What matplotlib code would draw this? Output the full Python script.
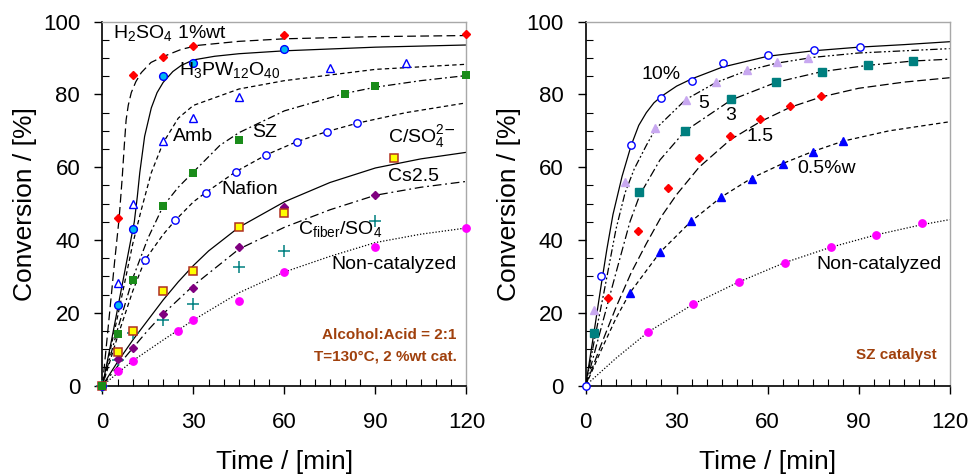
import matplotlib
matplotlib.use("Agg")
import matplotlib.pyplot as plt
from matplotlib.ticker import MultipleLocator

plt.rcParams["font.family"] = ["Liberation Sans", "DejaVu Sans"]
plt.rcParams["mathtext.fontset"] = "custom"
plt.rcParams["mathtext.rm"] = "Liberation Sans"
plt.rcParams["mathtext.it"] = "Liberation Sans"

# ---------------- left panel: catalysts (measured points) ----------------
t_h2so4 = [5, 10, 20, 30, 60, 120]
x_h2so4 = [46.1, 85.3, 90.4, 93.4, 96.3, 96.6]
t_hpw = [5, 10, 20, 30, 60]
x_hpw = [22.1, 43.1, 85.1, 88.6, 92.4]
t_amb = [5, 10, 20, 30, 45, 75, 100]
x_amb = [28.1, 50.0, 67.2, 73.4, 79.3, 87.2, 88.7]
t_sz = [0, 5, 10, 20, 30, 45, 80, 90, 120]
x_sz = [0, 14.2, 29.1, 49.3, 58.3, 67.4, 80.2, 82.2, 85.3]
t_naf = [0, 14, 24, 34, 44, 54, 64, 74, 84]
x_naf = [0, 34.5, 45.4, 52.9, 58.8, 63.4, 67.0, 69.8, 72.1]
t_cso4 = [0, 5, 10, 20, 30, 45, 60, 96]
x_cso4 = [0, 9.2, 15.1, 26.0, 31.5, 43.7, 47.4, 62.4]
t_cs = [0, 5, 10, 20, 30, 45, 60, 90]
x_cs = [0, 7.2, 10.2, 19.7, 26.9, 38.1, 49.1, 52.5]
t_cfib = [0, 5, 10, 20, 30, 45, 60, 90]
x_cfib = [0, 7.0, 14.4, 17.9, 22.3, 32.6, 36.9, 45.1]
t_nc = [0, 5, 10, 25, 30, 45, 60, 90, 120]
x_nc = [0, 4.1, 6.7, 15.1, 18.0, 23.2, 31.2, 38.2, 43.3]

# left panel: fitted curves
ct_h2so4 = [0, 2, 4, 5.5, 6.5, 7.2, 7.8, 8.5, 9.5, 11, 12.8, 16, 20, 26, 31.5, 45, 60, 90, 120]
cx_h2so4 = [0, 17, 34, 46, 57, 66, 73, 77, 80.5, 83.5, 86, 88.8, 90.4, 92.4, 93.5, 94.6, 95.3, 95.9, 96.2]
ct_hpw = [0, 3, 6, 9, 10.5, 11.5, 12.3, 13.9, 16.1, 18, 20, 23.2, 26, 30, 37, 45, 60, 90, 120]
cx_hpw = [0, 12.5, 25.5, 38.5, 45, 52, 58.5, 68.5, 76.3, 80.5, 83.3, 86.3, 88, 89.5, 90.5, 91.2, 92.0, 93.0, 93.6]
ct_amb = [0, 5, 10, 12.8, 16.1, 20, 25, 30, 45, 60, 90, 120]
cx_amb = [0, 19, 39, 48.3, 58.5, 66.7, 73.5, 77, 81.5, 83.8, 86.9, 88.3]
ct_sz = [0, 5, 10, 15, 20, 25, 30, 38.7, 45, 60, 80, 90, 105, 120]
cx_sz = [0, 15.5, 29.5, 40.5, 49.3, 54.5, 58.7, 66, 69.5, 75.5, 80.3, 82, 83.8, 85.2]
ct_naf = [0, 5, 10, 14, 20, 24, 30, 34, 44, 54, 64, 74, 84, 100, 120]
cx_naf = [0, 13.5, 26, 34.5, 41.5, 45.4, 50.5, 53, 58.8, 63.4, 67, 69.8, 72.1, 75, 77.7]
ct_cso4 = [0, 5, 10, 15, 20, 25, 30, 35, 45, 60, 75, 90, 105, 120]
cx_cso4 = [0, 6.5, 12.5, 18, 23.5, 28.5, 33, 37, 43.5, 50.5, 55.8, 59.8, 62.3, 64.1]
ct_cs = [0, 5, 10, 15, 20, 30, 45, 60, 75, 90, 105, 120]
cx_cs = [0, 5.3, 10.3, 15.2, 19.7, 27.5, 37.5, 43.5, 48.3, 52.3, 54.5, 56.1]
ct_nc = [0, 10, 20, 30, 45, 60, 75, 90, 105, 120]
cx_nc = [0, 6.8, 12.5, 18, 25.5, 31.2, 35.5, 39.3, 41.6, 43.3]

# ---------------- right panel: SZ loading (measured points) ----------------
t_10 = [0, 4.9, 14.8, 25, 35.1, 45.2, 60.2, 75.3, 90.3]
x_10 = [0, 30.2, 66.0, 78.9, 83.8, 88.7, 90.9, 92.3, 93.0]
t_5 = [2.8, 13, 23, 33.1, 43.1, 53.1, 63.2, 73.3]
x_5 = [20.8, 56.0, 70.9, 78.6, 83.5, 86.6, 88.8, 90.0]
t_3 = [2.8, 17.7, 32.8, 47.9, 62.9, 78, 93.1, 108]
x_3 = [14.4, 53.2, 69.9, 78.8, 83.4, 86.3, 88.1, 89.2]
t_15 = [7.5, 17.3, 27.2, 37.4, 47.6, 57.5, 67.5, 77.6]
x_15 = [24.0, 42.6, 54.3, 62.4, 68.5, 73.2, 76.9, 79.6]
t_05 = [14.6, 24.5, 34.6, 44.7, 54.7, 64.9, 74.8, 85]
x_05 = [25.4, 36.6, 45.3, 51.8, 56.9, 61.0, 64.2, 67.2]
t_ncr = [20.6, 35.5, 50.6, 65.7, 80.8, 95.7, 110.8]
x_ncr = [14.7, 22.4, 28.5, 33.8, 38.0, 41.4, 44.6]

# right panel: fitted curves
ct_10 = [0, 3, 5, 7, 9, 12, 15, 17.5, 20, 22.5, 25, 30, 35, 45, 60, 75, 90, 105, 120]
cx_10 = [0, 16, 27, 37.5, 47, 57.5, 66, 71.5, 75, 77.7, 79.5, 82.3, 84.3, 87.5, 90.5, 92, 93, 93.7, 94.5]
ct_5 = [0, 3, 6, 10, 13, 16, 20, 23, 33, 43, 53, 63, 75, 90, 105, 120]
cx_5 = [0, 13, 25.5, 43, 53, 59.5, 66, 70.5, 78.6, 83.3, 86.5, 88.6, 90.2, 91.4, 92, 92.6]
ct_3 = [0, 5, 10, 14.6, 17.9, 24.5, 32.7, 48, 63, 78, 93, 108, 120]
cx_3 = [0, 15.5, 31, 45, 52.5, 62, 69.9, 78.5, 83.4, 86.3, 88, 89.2, 89.7]
ct_15 = [0, 5, 10, 15, 20, 25, 30, 37.4, 47.6, 57.5, 67.5, 77.6, 90, 105, 120]
cx_15 = [0, 11, 21.5, 31, 39, 46.5, 52.5, 60, 67.5, 72.5, 76.5, 79.3, 81.7, 83.4, 84.6]
ct_05 = [0, 5, 10, 14.6, 24.5, 34.6, 44.7, 54.7, 64.9, 74.8, 85, 100, 120]
cx_05 = [0, 9.5, 18.5, 25.5, 36.6, 45, 51.8, 57, 61, 64.3, 67.2, 70, 72.5]
ct_ncr = [0, 10, 20.6, 35.5, 50.6, 65.7, 80.8, 95.7, 110.8, 120]
cx_ncr = [0, 7.5, 14.7, 22.4, 28.5, 33.8, 38, 41.4, 44.2, 45.6]

BROWN = "#a0400c"


def style_axes(ax):
    ax.set_xlim(0, 120)
    ax.set_ylim(0, 100)
    ax.xaxis.set_major_locator(MultipleLocator(30))
    ax.xaxis.set_minor_locator(MultipleLocator(5))
    ax.yaxis.set_major_locator(MultipleLocator(20))
    ax.yaxis.set_minor_locator(MultipleLocator(5))
    ax.tick_params(which="major", direction="out", length=6, width=1,
                   labelsize=16)
    ax.tick_params(which="minor", direction="in", length=5, width=0.8)
    ax.tick_params(axis="x", which="major", pad=13)
    ax.tick_params(axis="y", which="major", pad=10)
    for side in ("top", "right"):
        ax.spines[side].set_color("#a8a8a8")
        ax.spines[side].set_linewidth(1.0)
    for side in ("left", "bottom"):
        ax.spines[side].set_linewidth(1.2)
    ax.set_xlabel("Time / [min]", fontsize=19, labelpad=12)
    ax.set_ylabel("Conversion / [%]", fontsize=19, labelpad=4)


def curve(ax, t, x, dashes=None):
    line, = ax.plot(t, x, color="black", lw=0.9, zorder=2)
    if dashes is not None:
        line.set_dashes(dashes)


def points(ax, t, x, **kw):
    ax.plot(t, x, ls="none", clip_on=False, zorder=3, **kw)


fig = plt.figure(figsize=(9.74, 4.76), dpi=100)
ax1 = fig.add_axes([0.1052, 0.1901, 0.3737, 0.7643])
ax2 = fig.add_axes([0.6013, 0.1901, 0.3737, 0.7643])

# ---- left panel ----
curve(ax1, ct_h2so4, cx_h2so4, dashes=(7, 3.5))
curve(ax1, ct_hpw, cx_hpw)
curve(ax1, ct_amb, cx_amb, dashes=(3.5, 2.5))
curve(ax1, ct_sz, cx_sz, dashes=(6, 2.5, 1.5, 2.5))
curve(ax1, ct_naf, cx_naf, dashes=(3.5, 2.5))
curve(ax1, ct_cso4, cx_cso4)
curve(ax1, ct_cs, cx_cs, dashes=(7, 3, 1.5, 3))
curve(ax1, ct_nc, cx_nc, dashes=(1, 1.5))

points(ax1, t_nc, x_nc, marker="o", ms=5.3, mfc="#ff00ff", mec="#ff00ff")
points(ax1, t_cfib, x_cfib, marker="+", ms=8, mew=1.1, color="#008080")
points(ax1, t_cs, x_cs, marker="D", ms=4.4, mfc="#800080", mec="#800080")
points(ax1, t_cso4, x_cso4, marker="s", ms=5.2, mfc="#ffff00", mec="#b03020", mew=1.1)
points(ax1, t_naf, x_naf, marker="o", ms=5.3, mfc="white", mec="#0000ff", mew=1.0)
points(ax1, t_sz, x_sz, marker="s", ms=5.2, mfc="#1a8c1a", mec="#0000ff", mew=0.0)
points(ax1, t_amb, x_amb, marker="^", ms=5.3, mfc="white", mec="#0000ff", mew=1.0)
points(ax1, t_hpw, x_hpw, marker="o", ms=5.6, mfc="#00b8f0", mec="#0000ff", mew=1.0)
points(ax1, t_h2so4, x_h2so4, marker="D", ms=4.4, mfc="#ff0000", mec="#ff0000")

lab = dict(fontsize=14, va="center", ha="left")
ax1.text(3.5, 97.0, r"H$_2$SO$_4$ 1%wt", **lab)
ax1.text(25.2, 86.6, r"H$_3$PW$_{12}$O$_{40}$", **lab)
ax1.text(23.1, 68.5, "Amb", **lab)
ax1.text(49.2, 69.5, "SZ", **lab)
ax1.text(94.0, 68.5, r"C/SO$_4^{2\mathsf{-}}$", **lab)
ax1.text(39.1, 53.8, "Nafion", **lab)
ax1.text(94.0, 57.5, "Cs2.5", **lab)
ax1.text(64.6, 43.0, r"C$_{fiber}$/SO$_4$", **lab)
ax1.text(75.6, 33.2, "Non-catalyzed", **lab)
ax1.text(116.8, 13.9, "Alcohol:Acid = 2:1", fontsize=11, fontweight="bold",
         color=BROWN, ha="right", va="center")
ax1.text(116.8, 7.9, "T=130°C, 2 %wt cat.", fontsize=11, fontweight="bold",
         color=BROWN, ha="right", va="center")
style_axes(ax1)

# ---- right panel ----
curve(ax2, ct_10, cx_10)
curve(ax2, ct_5, cx_5, dashes=(6, 2, 1.5, 2, 1.5, 2))
curve(ax2, ct_3, cx_3, dashes=(7, 2.5, 1.5, 2.5))
curve(ax2, ct_15, cx_15, dashes=(7, 3))
curve(ax2, ct_05, cx_05, dashes=(3.5, 2.5))
curve(ax2, ct_ncr, cx_ncr, dashes=(1, 1.5))

points(ax2, t_ncr, x_ncr, marker="o", ms=5.3, mfc="#ff00ff", mec="#ff00ff")
points(ax2, t_05, x_05, marker="^", ms=5.3, mfc="#0000ff", mec="#0000ff")
points(ax2, t_15, x_15, marker="D", ms=4.4, mfc="#ff0000", mec="#ff0000")
points(ax2, t_3, x_3, marker="s", ms=5.2, mfc="#007f7f", mec="#007f7f")
points(ax2, t_5, x_5, marker="^", ms=5.8, mfc="#c8a8f0", mec="#c8a8f0")
points(ax2, t_10, x_10, marker="o", ms=5.3, mfc="white", mec="#0000ff", mew=1.0)

ax2.text(18.5, 85.5, "10%", **lab)
ax2.text(37.1, 77.5, "5", **lab)
ax2.text(45.9, 74.2, "3", **lab)
ax2.text(53.1, 68.5, "1.5", **lab)
ax2.text(69.6, 59.6, "0.5%w", **lab)
ax2.text(76.2, 33.2, "Non-catalyzed", **lab)
ax2.text(115.7, 8.4, "SZ catalyst", fontsize=11, fontweight="bold",
         color=BROWN, ha="right", va="center")
style_axes(ax2)

fig.savefig("out.png", dpi=100)
